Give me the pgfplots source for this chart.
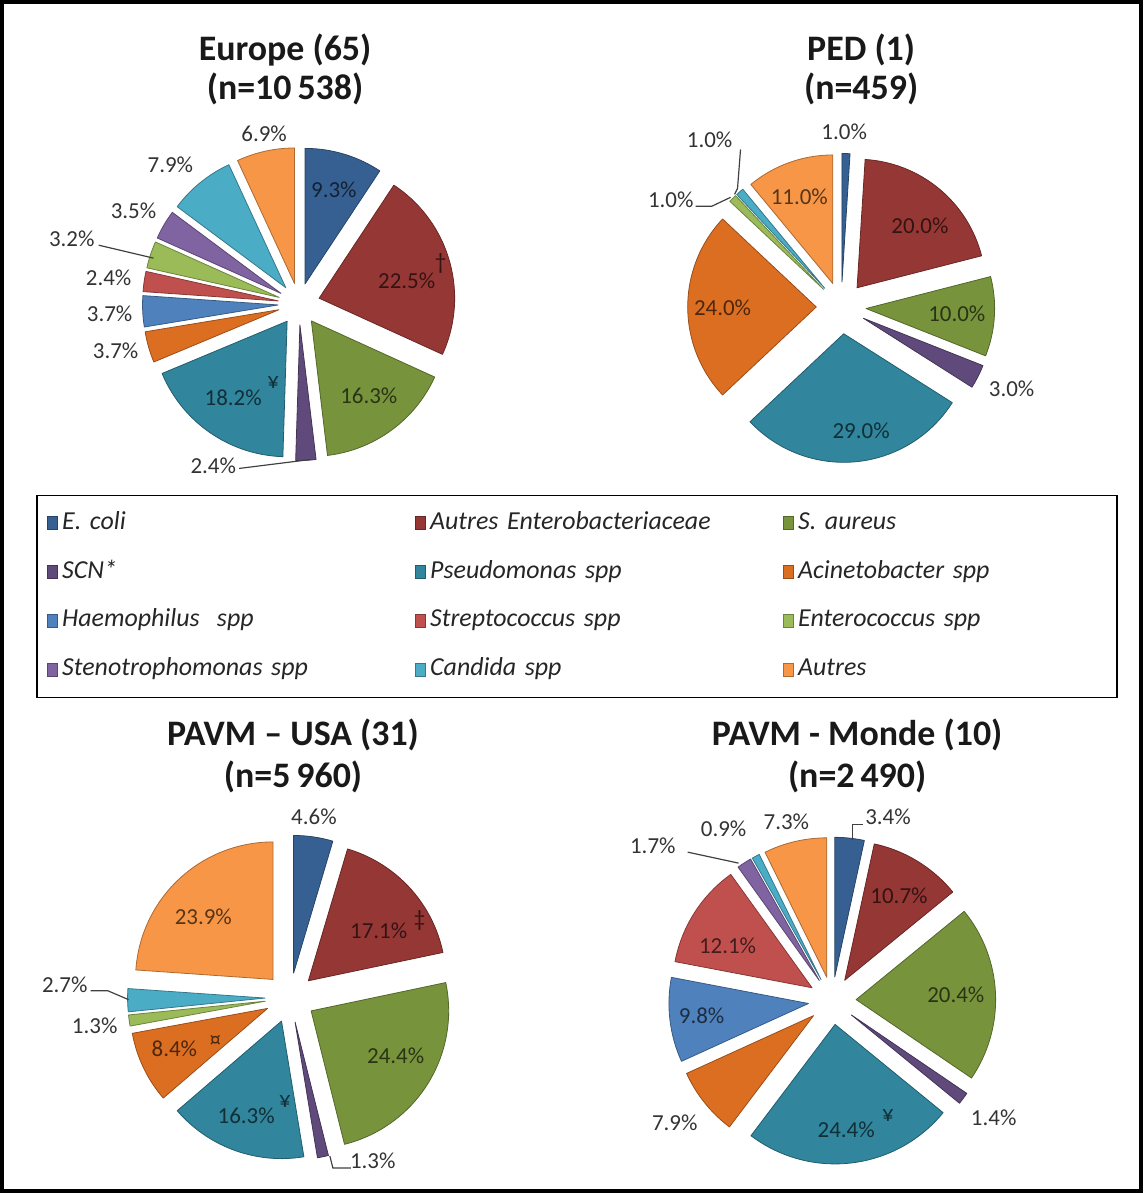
\documentclass[border=0pt]{standalone}
\usepackage{fontspec}
\setmainfont{Carlito}
\usepackage{pgfplots}
\pgfplotsset{compat=1.18}

\definecolor{cEco}{HTML}{376092}
\definecolor{cEnt}{HTML}{953735}
\definecolor{cSau}{HTML}{77933C}
\definecolor{cScn}{HTML}{604A7B}
\definecolor{cPse}{HTML}{31859C}
\definecolor{cAci}{HTML}{DC6E22}
\definecolor{cHae}{HTML}{4F81BD}
\definecolor{cStr}{HTML}{C0504D}
\definecolor{cEnc}{HTML}{9BBB59}
\definecolor{cSte}{HTML}{8064A2}
\definecolor{cCan}{HTML}{4BACC6}
\definecolor{cAut}{HTML}{F79646}

% pie state: centre, radius, explosion
\newcommand\pieinit[4]{\gdef\pcx{#1}\gdef\pcy{#2}\gdef\pr{#3}\gdef\pd{#4}\gdef\pcum{0}}
% \slice[explosion]{value in %}{colour}
\newcommand\slice[3][]{%
  \pgfmathsetmacro\tA{90-3.6*\pcum}%
  \pgfmathsetmacro\tB{90-3.6*(\pcum+#2)}%
  \pgfmathsetmacro\tM{(\tA+\tB)/2}%
  \def\tmpd{#1}\ifx\tmpd\empty\let\dd\pd\else\def\dd{#1}\fi
  \pgfmathsetmacro\ox{\pcx+\dd*cos(\tM)}%
  \pgfmathsetmacro\oy{\pcy-\dd*sin(\tM)}%
  \pgfmathtruncatemacro\ns{max(3,#2*1.5+3)}%
  \edef\doit{\noexpand\addplot[forget plot, fill=#3, draw=#3!70!black, line width=0.4pt, line join=round, domain=\tB:\tA, samples=\ns] ({\ox+\pr*cos(x)},{\oy-\pr*sin(x)}) -- (\ox,\oy) -- cycle;}%
  \doit
  \pgfmathsetmacro\tmp{\pcum+#2}\global\let\pcum\tmp
}

\pgfplotsset{
  sq/.style={legend image code/.code={\draw[##1] (0pt,-3.3pt) rectangle (5pt,3.3pt);}},
  lead/.style={forget plot, black!75, line width=0.6pt, mark=none},
}
\tikzset{
  lab/.style={font=\fontsize{11.5}{13}\selectfont, text=black!80, inner sep=0pt},
  ttl/.style={font=\fontsize{18}{21}\selectfont\bfseries, text=black!90, inner sep=0pt},
}

\begin{document}
\begin{tikzpicture}
\begin{axis}[
  width=571.5pt, height=596.5pt, scale only axis,
  xmin=0, xmax=1143, ymin=0, ymax=1193, y dir=reverse,
  axis line style={line width=2pt, black},
  xtick=\empty, ytick=\empty,
  clip=false,
  legend columns=3,
  legend cell align=left,
  legend style={at={(0.5048,0.5)}, anchor=center, draw=black, line width=0.6pt,
    inner xsep=5pt, inner ysep=8pt, row sep=12.5pt,
    /tikz/every even column/.append style={column sep=22pt},
    nodes={inner xsep=2pt, inner ysep=0pt, text width=153pt, align=left, text height=9pt, text depth=3pt,
      font=\fontsize{13}{15}\selectfont\itshape, text=black!85}},
]
% ---------------- legend ----------------
\addlegendimage{sq, fill=cEco, draw=cEco!70!black}\addlegendentry{E. coli}
\addlegendimage{sq, fill=cEnt, draw=cEnt!70!black}\addlegendentry{Autres Enterobacteriaceae}
\addlegendimage{sq, fill=cSau, draw=cSau!70!black}\addlegendentry{S. aureus}
\addlegendimage{sq, fill=cScn, draw=cScn!70!black}\addlegendentry{SCN*}
\addlegendimage{sq, fill=cPse, draw=cPse!70!black}\addlegendentry{Pseudomonas spp}
\addlegendimage{sq, fill=cAci, draw=cAci!70!black}\addlegendentry{Acinetobacter spp}
\addlegendimage{sq, fill=cHae, draw=cHae!70!black}\addlegendentry{Haemophilus\ \ spp}
\addlegendimage{sq, fill=cStr, draw=cStr!70!black}\addlegendentry{Streptococcus spp}
\addlegendimage{sq, fill=cEnc, draw=cEnc!70!black}\addlegendentry{Enterococcus spp}
\addlegendimage{sq, fill=cSte, draw=cSte!70!black}\addlegendentry{Stenotrophomonas spp}
\addlegendimage{sq, fill=cCan, draw=cCan!70!black}\addlegendentry{Candida spp}
\addlegendimage{sq, fill=cAut, draw=cAut!70!black}\addlegendentry{Autres}

% ---------------- Europe (65) ----------------
\pieinit{298}{303}{136}{21}
\slice{9.3}{cEco}\slice{22.5}{cEnt}\slice{16.3}{cSau}\slice{2.4}{cScn}
\slice{18.2}{cPse}\slice{3.7}{cAci}\slice{3.7}{cHae}\slice{2.4}{cStr}
\slice{3.2}{cEnc}\slice{3.5}{cSte}\slice{7.9}{cCan}\slice{6.9}{cAut}
\node[ttl] at (axis cs:284,48) {Europe (65)};
\node[ttl] at (axis cs:284,87) {(n=10\,538)};
\node[lab] at (axis cs:263,132) {6.9\%};
\node[lab, text=cEco!35!black] at (axis cs:333,188) {9.3\%};
\node[lab, text=cEnt!35!black] at (axis cs:406,280) {22.5\%};
\node[lab, text=cEnt!35!black] at (axis cs:440,262) {†};
\node[lab, text=cSau!35!black] at (axis cs:368,395) {16.3\%};
\node[lab, text=cPse!35!black] at (axis cs:232,397) {18.2\%};
\node[lab, text=cPse!35!black] at (axis cs:272,382) {¥};
\node[lab] at (axis cs:212,465) {2.4\%};
\addplot[lead] coordinates {(238,468) (310,459)};
\node[lab] at (axis cs:114,350) {3.7\%};
\node[lab] at (axis cs:108,313) {3.7\%};
\node[lab] at (axis cs:107,277) {2.4\%};
\node[lab] at (axis cs:70,238) {3.2\%};
\addplot[lead] coordinates {(97,244) (152,257)};
\node[lab] at (axis cs:132,209) {3.5\%};
\node[lab] at (axis cs:169,163) {7.9\%};

% ---------------- PED (1) ----------------
\pieinit{842}{306}{129}{25}
\slice{1.0}{cEco}\slice{20.0}{cEnt}\slice{10.0}{cSau}\slice{3.0}{cScn}
\slice[27]{29.0}{cPse}\slice{24.0}{cAci}\slice{1.0}{cEnc}\slice{1.0}{cCan}
\slice{11.0}{cAut}
\node[ttl] at (axis cs:862,48) {PED (1)};
\node[ttl] at (axis cs:862,87) {(n=459)};
\node[lab] at (axis cs:845,130) {1.0\%};
\node[lab] at (axis cs:710,138) {1.0\%};
\addplot[lead] coordinates {(741,148) (738,187) (735,193)};
\node[lab] at (axis cs:671,198) {1.0\%};
\addplot[lead] coordinates {(696,205) (712,205) (731,196)};
\node[lab, text=cAut!35!black] at (axis cs:800,195) {11.0\%};
\node[lab, text=cEnt!35!black] at (axis cs:921,225) {20.0\%};
\node[lab, text=cAci!35!black] at (axis cs:723,307) {24.0\%};
\node[lab, text=cSau!35!black] at (axis cs:958,313) {10.0\%};
\node[lab] at (axis cs:1013,388) {3.0\%};
\node[lab, text=cPse!35!black] at (axis cs:862,430) {29.0\%};

% ---------------- PAVM - USA (31) ----------------
\pieinit{289}{999}{138}{25}
\slice{4.6}{cEco}\slice{17.1}{cEnt}\slice{24.4}{cSau}\slice{1.3}{cScn}
\slice{16.3}{cPse}\slice{8.4}{cAci}\slice{1.3}{cEnc}\slice{2.7}{cCan}
\slice{23.9}{cAut}
\node[ttl] at (axis cs:292,735) {PAVM -- USA (31)};
\node[ttl] at (axis cs:292,777) {(n=5\,960)};
\node[lab] at (axis cs:313,818) {4.6\%};
\node[lab, text=cEnt!35!black] at (axis cs:378,932) {17.1\%};
\node[lab, text=cEnt!35!black] at (axis cs:419,922) {‡};
\node[lab, text=cAut!35!black] at (axis cs:202,918) {23.9\%};
\node[lab, text=cSau!35!black] at (axis cs:395,1057) {24.4\%};
\node[lab] at (axis cs:63,986) {2.7\%};
\addplot[lead] coordinates {(89,992) (106,992) (127,1001)};
\node[lab] at (axis cs:93,1027) {1.3\%};
\node[lab, text=cAci!35!black] at (axis cs:173,1050) {8.4\%};
\node[lab, text=cAci!35!black] at (axis cs:214,1043) {¤};
\node[lab, text=cPse!35!black] at (axis cs:245,1118) {16.3\%};
\node[lab, text=cPse!35!black] at (axis cs:284,1103) {¥};
\node[lab] at (axis cs:372,1163) {1.3\%};
\addplot[lead] coordinates {(329,1158) (332,1170) (350,1170)};

% ---------------- PAVM - Monde (10) ----------------
\pieinit{833}{1002}{140}{24}
\slice{3.4}{cEco}\slice{10.7}{cEnt}\slice{20.4}{cSau}\slice{1.4}{cScn}
\slice{24.4}{cPse}\slice{7.9}{cAci}\slice{9.8}{cHae}\slice{12.1}{cStr}
\slice{1.7}{cSte}\slice{0.9}{cCan}\slice{7.3}{cAut}
\node[ttl] at (axis cs:858,735) {PAVM - Monde (10)};
\node[ttl] at (axis cs:858,777) {(n=2\,490)};
\node[lab] at (axis cs:889,818) {3.4\%};
\addplot[lead] coordinates {(864,825) (853,825) (853,841)};
\node[lab] at (axis cs:787,823) {7.3\%};
\node[lab] at (axis cs:724,830) {0.9\%};
\node[lab] at (axis cs:653,847) {1.7\%};
\addplot[lead] coordinates {(688,853) (739,864)};
\node[lab, text=cEnt!35!black] at (axis cs:900,897) {10.7\%};
\node[lab, text=cStr!35!black] at (axis cs:728,947) {12.1\%};
\node[lab, text=cSau!35!black] at (axis cs:957,996) {20.4\%};
\node[lab, text=cHae!35!black] at (axis cs:702,1017) {9.8\%};
\node[lab] at (axis cs:675,1125) {7.9\%};
\node[lab, text=cPse!35!black] at (axis cs:847,1132) {24.4\%};
\node[lab, text=cPse!35!black] at (axis cs:889,1117) {¥};
\node[lab] at (axis cs:995,1120) {1.4\%};
\end{axis}
\end{tikzpicture}
\end{document}
